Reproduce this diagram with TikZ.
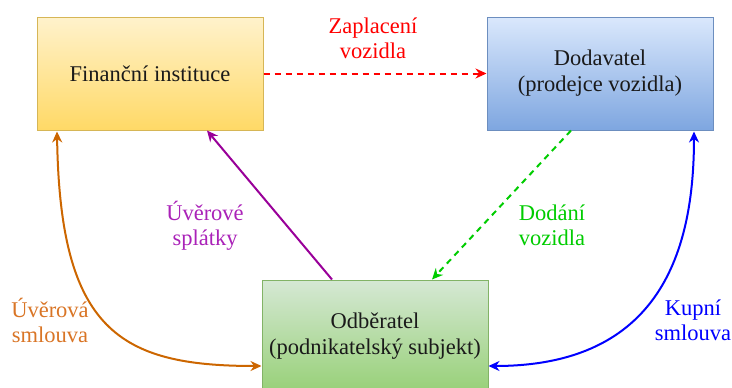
\documentclass[tikz,border=0pt]{standalone}
\usepackage{fontspec}
\setmainfont{Liberation Serif}
\usetikzlibrary{arrows.meta,calc}
\definecolor{finTop}{HTML}{FFF2CC}
\definecolor{finBot}{HTML}{FFD966}
\definecolor{finLine}{HTML}{D6B656}
\definecolor{dodTop}{HTML}{DAE8FC}
\definecolor{dodBot}{HTML}{7EA6E0}
\definecolor{dodLine}{HTML}{6C8EBF}
\definecolor{odbTop}{HTML}{D5E8D4}
\definecolor{odbBot}{HTML}{97D077}
\definecolor{odbLine}{HTML}{82B366}
\definecolor{cRed}{HTML}{FF0000}
\definecolor{cPurple}{HTML}{990099}
\definecolor{tPurple}{HTML}{AA22B8}
\definecolor{cGreen}{HTML}{00CC00}
\definecolor{cOrange}{HTML}{CC6600}
\definecolor{tOrange}{HTML}{D97526}
\definecolor{cBlue}{HTML}{0000FF}
\definecolor{txt}{HTML}{1A1A1A}
\tikzset{
  box/.style={draw, line width=1pt, minimum width=226pt, minimum height=113pt,
    inner sep=0pt, align=center, text=txt,
    font=\fontsize{22.5}{26}\selectfont},
  lbl/.style={align=center, inner sep=0pt, font=\fontsize{22.5}{25}\selectfont},
  arr/.style={line width=2pt, -{Stealth[length=11pt,width=10pt]}},
  darr/.style={line width=2pt, {Stealth[length=11pt,width=10pt]}-{Stealth[length=11pt,width=10pt]}},
  dasharr/.style={line width=2pt, dash pattern=on 6pt off 5pt, -{Stealth[length=11pt,width=10pt]}}
}
\begin{document}
\begin{tikzpicture}[x=1pt,y=-1pt]
\useasboundingbox (0,0) rectangle (732,388);
\clip (0,0) rectangle (732,388);
\node[box, top color=finTop, bottom color=finBot, draw=finLine] (fin) at (150,73.5) {Finanční instituce};
\node[box, top color=dodTop, bottom color=dodBot, draw=dodLine] (dod) at (600,73.5) {Dodavatel\\(prodejce vozidla)};
\node[box, top color=odbTop, bottom color=odbBot, draw=odbLine] (odb) at (375,336.5) {Odběratel\\(podnikatelský subjekt)};

\draw[dasharr, color=cRed] (fin.east) -- (dod.west);
\draw[arr, color=cPurple] ([xshift=-43pt]odb.north) -- ([xshift=57pt]fin.south);
\draw[dasharr, color=cGreen] ([xshift=-29pt]dod.south) -- ([xshift=57pt]odb.north);
\draw[darr, color=cOrange] ([xshift=-93pt,yshift=-1pt]fin.south) .. controls +(3,199) and +(-142,0) .. ([yshift=-29.5pt]odb.west);
\draw[darr, color=cBlue] ([xshift=94pt,yshift=-1pt]dod.south) .. controls +(0,119) and +(172,0) .. ([yshift=-29.5pt]odb.east);

\node[lbl, text=cRed] (l1) at (373,38.5) {Zaplacení\\vozidla};
\node[lbl, text=tPurple] (l2) at (205,225.5) {Úvěrové\\splátky};
\node[lbl, text=cGreen] (l3) at (552,225) {Dodání\\vozidla};
\node[lbl, text=tOrange] (l4) at (50,320) {Úvěrová\\smlouva};
\node[lbl, text=cBlue] (l5) at (693,320) {Kupní\\smlouva};
\end{tikzpicture}
\end{document}
